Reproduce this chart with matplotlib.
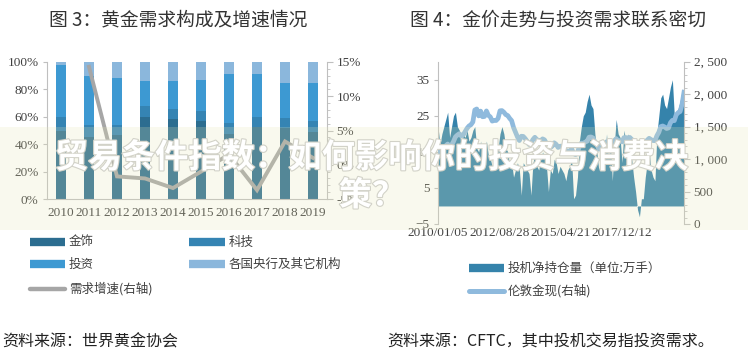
import numpy as np
import matplotlib
matplotlib.use('Agg')
import matplotlib.pyplot as plt
import matplotlib.patheffects as pe
import matplotlib.transforms as mtransforms
from matplotlib.patches import Rectangle
from matplotlib.lines import Line2D
from matplotlib.ticker import FuncFormatter, MultipleLocator

plt.rcParams['font.family'] = ['Noto Sans CJK SC', 'DejaVu Sans']

# ---- chart 3: gold demand structure (stacked share, %) ----
years = ['2010', '2011', '2012', '2013', '2014', '2015', '2016', '2017', '2018', '2019']
jewelry = [50.0, 45.0, 46.5, 59.6, 58.4, 56.7, 47.4, 52.5, 51.8, 49.0]
tech = [10.0, 9.0, 7.5, 8.0, 7.6, 7.8, 8.1, 7.5, 7.2, 7.7]
invest = [38.0, 35.5, 34.0, 18.4, 20.0, 22.1, 36.0, 31.0, 25.7, 28.0]
central_bank = [2.0, 10.5, 12.0, 14.0, 14.0, 13.4, 8.5, 9.0, 15.3, 15.3]
growth = [np.nan, 14.3, -1.7, -2.0, -3.4, -1.0, 1.5, -3.7, 3.4, 1.0]  # % right axis

# ---- chart 4: spec net position (10k lots) & London gold, monthly Jan 2010 - Aug 2020 ----
net_position = [
    22, 17, 20, 22, 24, 26, 19, 22, 25, 26, 22, 21,
    16, 20, 19, 21, 18, 19, 21, 22, 16, 15, 18, 13,
    15, 18, 14, 13, 11, 14, 13, 16, 20, 22, 20, 16,
    15, 11, 12, 8, 10, 12, 10, 3, 12, 11, 10, 9,
    3, 12, 14, 11, 10, 13, 15, 13, 11, 4, 10, 9,
    13, 12, 9, 11, 10, 9, 7, 10, 11, 13, 2, 3,
    8, 18, 22, 25, 26, 29, 31, 28, 27, 20, 15, 10,
    12, 15, 13, 20, 13, 18, 7, 17, 24, 20, 19, 12,
    21, 18, 20, 17, 13, 8, 4, -1, -3, 2, 2, 8,
    12, 15, 10, 8, 7, 20, 25, 30, 31, 28, 27, 30,
    33, 35, 25, 26, 27, 29, 32, 30]
gold = [
    1118, 1095, 1113, 1149, 1205, 1232, 1193, 1215, 1271, 1342, 1370, 1391,
    1356, 1372, 1424, 1474, 1510, 1529, 1572, 1756, 1772, 1665, 1739, 1652,
    1656, 1742, 1674, 1650, 1585, 1596, 1594, 1626, 1744, 1747, 1722, 1684,
    1671, 1627, 1593, 1487, 1414, 1343, 1286, 1352, 1349, 1316, 1275, 1225,
    1244, 1300, 1336, 1299, 1287, 1279, 1311, 1296, 1239, 1222, 1176, 1201,
    1251, 1227, 1179, 1198, 1199, 1182, 1131, 1117, 1125, 1159, 1086, 1068,
    1097, 1200, 1246, 1242, 1261, 1276, 1337, 1341, 1326, 1266, 1236, 1152,
    1192, 1234, 1231, 1266, 1246, 1260, 1237, 1283, 1315, 1280, 1282, 1265,
    1331, 1331, 1325, 1334, 1303, 1282, 1238, 1202, 1198, 1215, 1221, 1250,
    1292, 1320, 1300, 1285, 1284, 1359, 1413, 1500, 1510, 1495, 1471, 1480,
    1560, 1597, 1592, 1683, 1716, 1732, 1846, 2030]
date_ticks = [0, 31.7, 63.4, 95.1]
date_labels = ['2010/01/05', '2012/08/28', '2015/04/21', '2017/12/12']

c_jew, c_tech, c_inv, c_cb = '#2c6d90', '#3584b3', '#3d99d2', '#8bb7dc'
c_growth = '#a6a6a6'
c_net, c_gold = '#3583ab', '#8fbadd'
axis_c = '#bfbfbf'
txt_c = '#404040'
serif = 'Liberation Serif'

fig = plt.figure(figsize=(7.48, 3.58), dpi=100)
W, H = 748, 358


def box(l, t, r, b):
    return [l / W, 1 - b / H, (r - l) / W, (b - t) / H]


# ---------------- left chart ----------------
ax1 = fig.add_axes(box(47, 62, 327, 199))
x = np.arange(len(years))
bw = 0.35
bottom = np.zeros(len(years))
for vals, col in [(jewelry, c_jew), (tech, c_tech), (invest, c_inv), (central_bank, c_cb)]:
    ax1.bar(x, vals, bw, bottom=bottom, color=col, edgecolor='none')
    bottom += np.array(vals)
ax1.set_xlim(-0.5, 9.5)
ax1.set_ylim(0, 100)
ax1.set_yticks(range(0, 101, 20))
ax1.yaxis.set_major_formatter(FuncFormatter(lambda v, p: f'{v:.0f}%'))
ax1.set_xticks(x)
ax1.set_xticklabels(years)
ax1.tick_params(axis='x', length=0, pad=6, labelsize=9.5, labelcolor=txt_c)
ax1.tick_params(axis='y', length=3, color=axis_c, pad=3, labelsize=9.5, labelcolor=txt_c)
for lab in ax1.get_xticklabels() + ax1.get_yticklabels():
    lab.set_family(serif)
ax1.spines['top'].set_visible(False)
ax1.spines['right'].set_visible(False)
for s in ['left', 'bottom']:
    ax1.spines[s].set_color(axis_c)

ax1r = ax1.twinx()
ax1r.plot(x, growth, color=c_growth, lw=2.8, solid_joinstyle='miter')
ax1r.set_ylim(-5, 15)
ax1r.yaxis.set_major_locator(MultipleLocator(5))
ax1r.yaxis.set_minor_locator(MultipleLocator(1))
ax1r.yaxis.set_major_formatter(FuncFormatter(lambda v, p: f'{v:.0f}%'))
ax1r.tick_params(axis='y', which='major', length=4, color=axis_c, pad=3, labelsize=9.5, labelcolor=txt_c)
ax1r.tick_params(axis='y', which='minor', length=2, color=axis_c)
for lab in ax1r.get_yticklabels():
    lab.set_family(serif)
for s in ['top', 'left', 'bottom']:
    ax1r.spines[s].set_visible(False)
ax1r.spines['right'].set_color(axis_c)

# ---------------- right chart ----------------
ax2 = fig.add_axes(box(438, 61.7, 684, 224))
m = np.arange(len(net_position))
ax2.fill_between(m, 0, net_position, color=c_net, lw=0)
ax2.set_xlim(0, len(net_position) - 1)
ax2.set_ylim(-5, 40)
ax2.set_yticks([-5, 5, 15, 25, 35])
ax2.set_xticks(date_ticks)
ax2.set_xticklabels(date_labels)
off = mtransforms.ScaledTranslation(-7 / 100, 0, fig.dpi_scale_trans)
for lab in ax2.get_xticklabels():
    lab.set_transform(lab.get_transform() + off)
ax2.tick_params(axis='x', length=0, pad=2, labelsize=9.5, labelcolor=txt_c)
ax2.tick_params(axis='y', length=3, color=axis_c, pad=3, labelsize=9.5, labelcolor=txt_c)
for lab in ax2.get_xticklabels() + ax2.get_yticklabels():
    lab.set_family(serif)
for s in ['top', 'right', 'bottom']:
    ax2.spines[s].set_visible(False)
ax2.spines['left'].set_color(axis_c)

ax2r = ax2.twinx()
ax2r.plot(m, gold, color=c_gold, lw=3.4)
ax2r.set_ylim(0, 2500)
ax2r.yaxis.set_major_locator(MultipleLocator(500))
ax2r.yaxis.set_minor_locator(MultipleLocator(100))
ax2r.yaxis.set_major_formatter(FuncFormatter(lambda v, p: f'{v:,.0f}'.replace(',', ', ')))
ax2r.tick_params(axis='y', which='major', length=4, color=axis_c, pad=3, labelsize=9.5, labelcolor=txt_c)
ax2r.tick_params(axis='y', which='minor', length=2, color=axis_c)
for lab in ax2r.get_yticklabels():
    lab.set_family(serif)
for s in ['top', 'left', 'bottom']:
    ax2r.spines[s].set_visible(False)
ax2r.spines['right'].set_color(axis_c)

# ---------------- titles ----------------
fig.text(178 / W, 1 - 20 / H, '图 3：黄金需求构成及增速情况', ha='center', va='center',
         fontsize=13.5, color='#333333')
fig.text(558 / W, 1 - 20 / H, '图 4：金价走势与投资需求联系密切', ha='center', va='center',
         fontsize=13.5, color='#333333')


# ---------------- legends ----------------
def leg_item(x0, x1, y, col, label, lw=6, cap='butt', fs=9):
    fig.add_artist(Line2D([x0 / W, x1 / W], [1 - y / H, 1 - y / H], color=col, lw=lw,
                          solid_capstyle=cap, transform=fig.transFigure))
    fig.text((x1 + 4) / W, 1 - y / H, label, ha='left', va='center', fontsize=fs, color=txt_c)


leg_item(30, 65, 242, c_jew, '金饰')
leg_item(189, 225, 242, c_tech, '科技')
leg_item(30, 65, 264, c_inv, '投资')
leg_item(189, 225, 264, c_cb, '各国央行及其它机构')
leg_item(30, 65, 289, c_growth, '需求增速(右轴)', lw=3.2, cap='round')

leg_item(469, 504, 268, c_net, '投机净持仓量（单位:万手）')
leg_item(469, 504, 291, c_gold, '伦敦金现(右轴)', lw=3.6, cap='round')

fig.text(2 / W, 1 - 342 / H, '资料来源：世界黄金协会', ha='left', va='center',
         fontsize=11.5, color='#222222')
fig.text(387 / W, 1 - 342 / H, '资料来源：CFTC，其中投机交易指投资需求。', ha='left', va='center',
         fontsize=11.5, color='#222222')

# ---------------- watermark band ----------------
fig.add_artist(Rectangle((0, 1 - 230 / H), 1, 103 / H, transform=fig.transFigure,
                         facecolor='#e6e6b4', alpha=0.22, edgecolor='none', zorder=20))
wm = dict(ha='center', va='center', fontsize=24, fontweight='bold', color='white', zorder=21,
          path_effects=[pe.withStroke(linewidth=1.6, foreground='#d2d2c8')])
fig.text(372 / W, 1 - 158 / H, '贸易条件指数：如何影响你的投资与消费决', **wm)
fig.text(372 / W, 1 - 196 / H, '策？', **wm)

fig.savefig('out.png', dpi=100, facecolor='white')
